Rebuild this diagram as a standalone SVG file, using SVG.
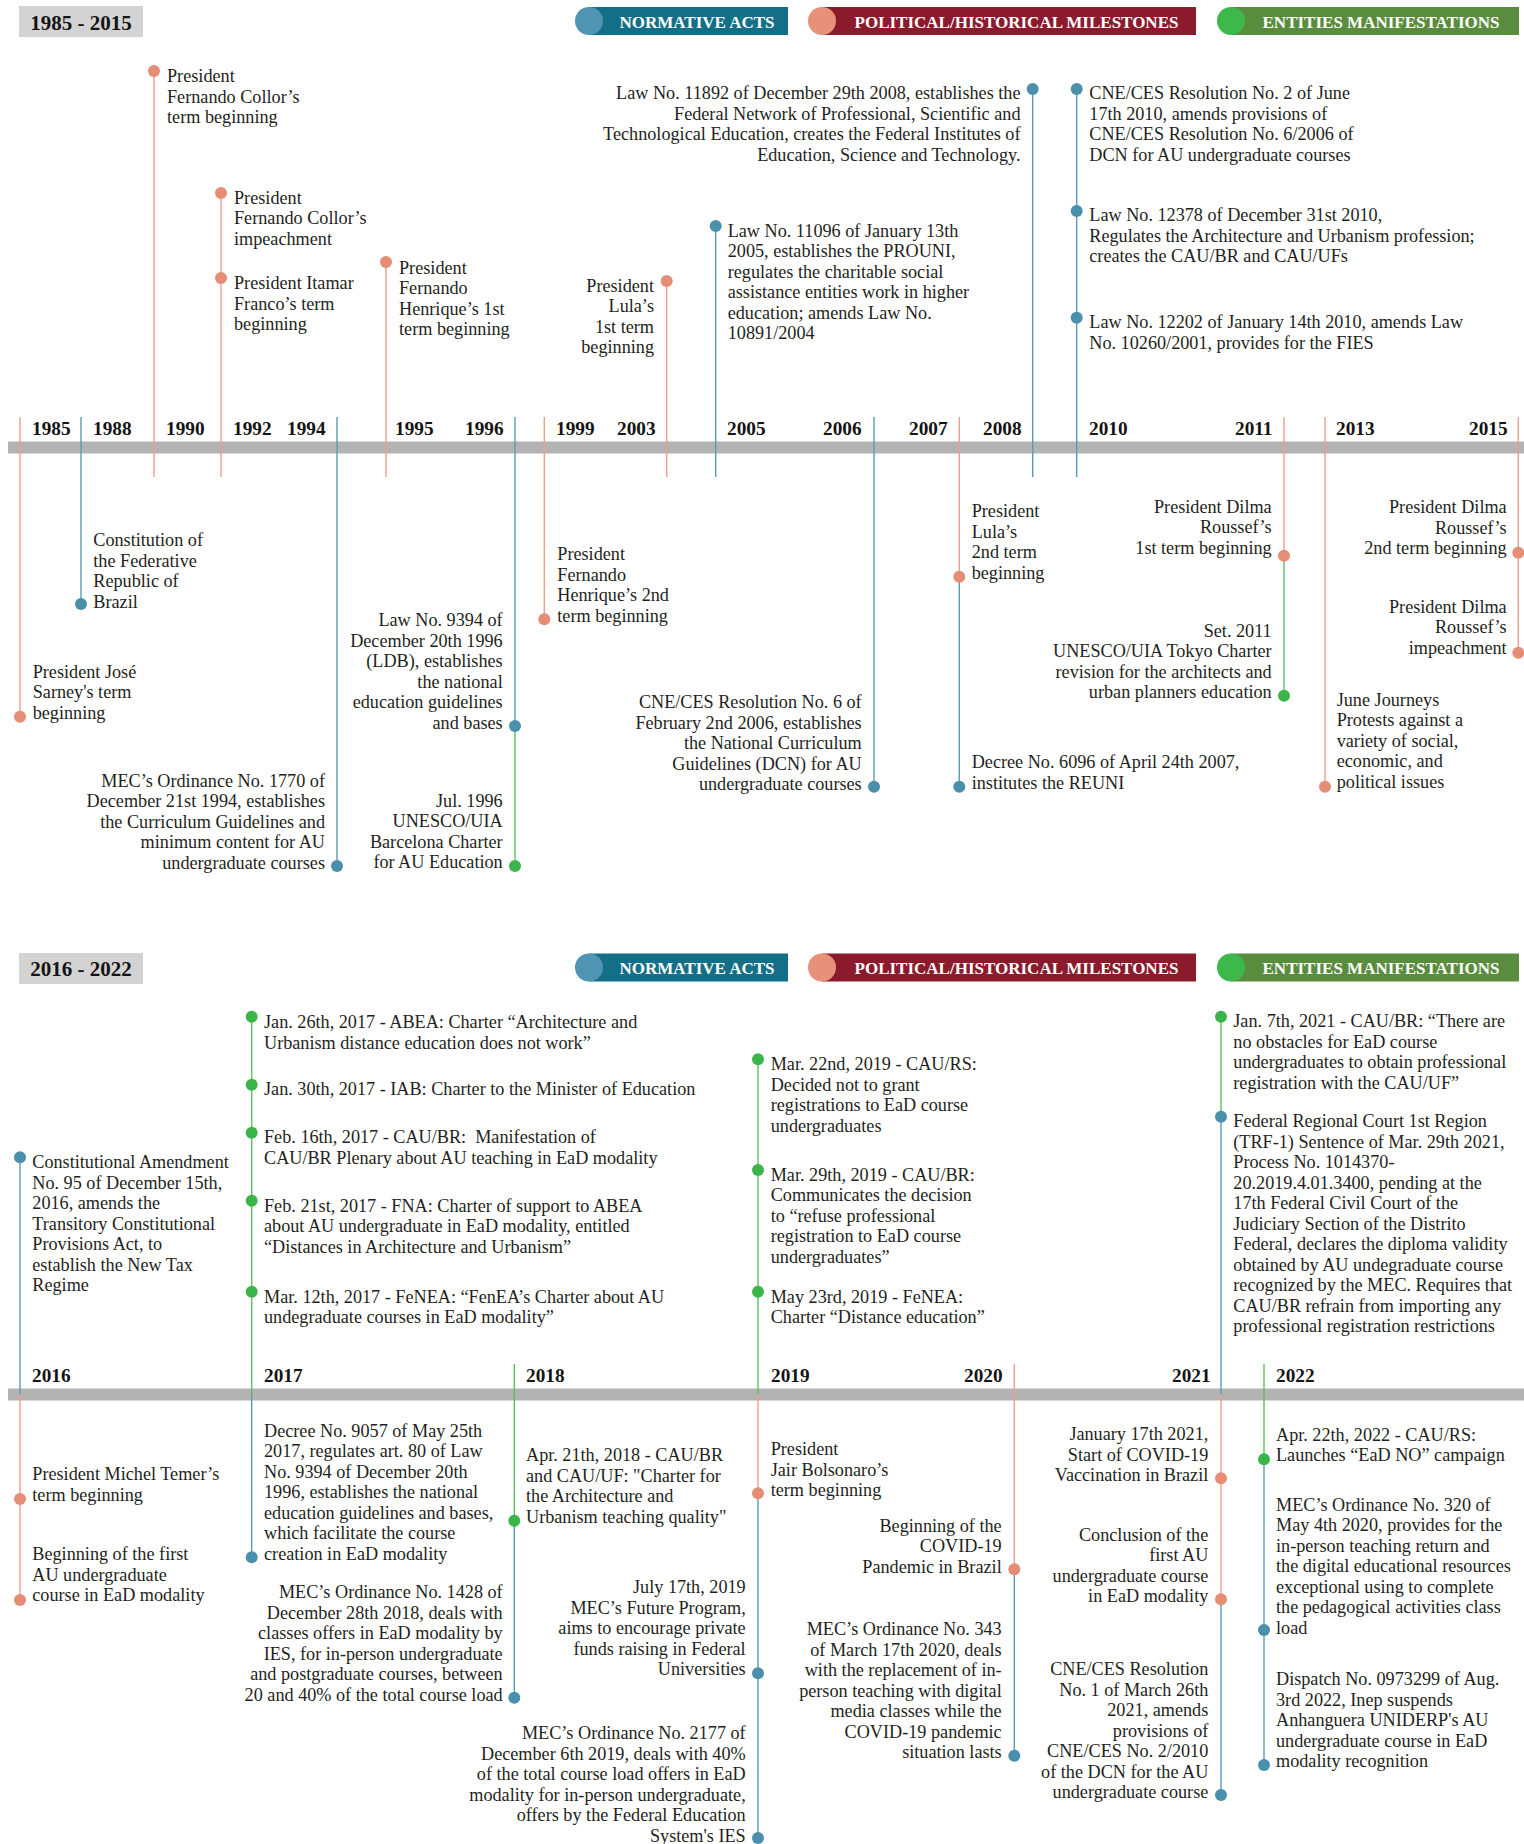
<svg xmlns="http://www.w3.org/2000/svg" width="1524" height="1844" viewBox="0 0 1524 1844">
<style>
.t{font-family:"Liberation Serif","Times New Roman",serif;font-size:18.2px;fill:#231f20}
.r{text-anchor:end}
.yr{font-family:"Liberation Serif","Times New Roman",serif;font-weight:bold;font-size:19.3px;fill:#141414}
.ttl{font-family:"Liberation Serif","Times New Roman",serif;font-weight:bold;font-size:21px;fill:#141414;text-anchor:middle}
.lg{font-family:"Liberation Serif","Times New Roman",serif;font-weight:bold;font-size:17px;fill:#ffffff;text-anchor:middle}
.ls{stroke:#ee9f8b;stroke-width:1.4;fill:none}
.lb{stroke:#5c9bb6;stroke-width:1.4;fill:none}
.lgr{stroke:#5cc060;stroke-width:1.4;fill:none}
.ds{fill:#e58d75}
.db{fill:#4a8fac}
.dg{fill:#3bb54a}
.bar{fill:#b3b3b3}
.box{fill:#d3d3d3}
</style>

<!-- ===== Section 1 header ===== -->
<g id="title-1985-2015"><rect class="box" x="19" y="6" width="124" height="31"/><text class="ttl" x="81" y="29.5">1985 - 2015</text></g>
<g id="legend-top">
<rect x="589" y="7" width="199" height="28" fill="#136f87"/><circle cx="589" cy="21" r="14" fill="#4f95b1"/><text class="lg" x="697" y="27.5">NORMATIVE ACTS</text>
<rect x="822" y="7" width="374" height="28" fill="#8a1a2c"/><circle cx="822" cy="21" r="14" fill="#e8917a"/><text class="lg" x="1016.5" y="27.5">POLITICAL/HISTORICAL MILESTONES</text>
<rect x="1231" y="7" width="288" height="28" fill="#5a8c3e"/><circle cx="1231" cy="21" r="14" fill="#3db94b"/><text class="lg" x="1381" y="27.5">ENTITIES MANIFESTATIONS</text>
</g>

<rect class="bar" x="8" y="441.5" width="1516" height="12"/>
<g id="years-top">
<text class="yr" x="32" y="435">1985</text><text class="yr" x="93" y="435">1988</text><text class="yr" x="166" y="435">1990</text><text class="yr" x="233" y="435">1992</text><text class="yr" x="287" y="435">1994</text><text class="yr" x="395" y="435">1995</text><text class="yr" x="465" y="435">1996</text><text class="yr" x="556" y="435">1999</text><text class="yr" x="617" y="435">2003</text><text class="yr" x="727" y="435">2005</text><text class="yr" x="823" y="435">2006</text><text class="yr" x="909" y="435">2007</text><text class="yr" x="983" y="435">2008</text><text class="yr" x="1089" y="435">2010</text><text class="yr" x="1235" y="435">2011</text><text class="yr" x="1336" y="435">2013</text><text class="yr" x="1469" y="435">2015</text>
</g>

<!-- ===== Section 2 header ===== -->
<g id="title-2016-2022"><rect class="box" x="19" y="953" width="124" height="31"/><text class="ttl" x="81" y="976">2016 - 2022</text></g>
<g id="legend-bottom">
<rect x="589" y="953.5" width="199" height="28" fill="#136f87"/><circle cx="589" cy="967.5" r="14" fill="#4f95b1"/><text class="lg" x="697" y="974">NORMATIVE ACTS</text>
<rect x="822" y="953.5" width="374" height="28" fill="#8a1a2c"/><circle cx="822" cy="967.5" r="14" fill="#e8917a"/><text class="lg" x="1016.5" y="974">POLITICAL/HISTORICAL MILESTONES</text>
<rect x="1231" y="953.5" width="288" height="28" fill="#5a8c3e"/><circle cx="1231" cy="967.5" r="14" fill="#3db94b"/><text class="lg" x="1381" y="974">ENTITIES MANIFESTATIONS</text>
</g>

<rect class="bar" x="8" y="1388.5" width="1516" height="12"/>
<g id="years-bottom">
<text class="yr" x="32" y="1382">2016</text><text class="yr" x="264" y="1382">2017</text><text class="yr" x="526" y="1382">2018</text><text class="yr" x="771" y="1382">2019</text><text class="yr" x="964" y="1382">2020</text><text class="yr" x="1172" y="1382">2021</text><text class="yr" x="1276" y="1382">2022</text>
</g>

<!-- ===== Connectors ===== -->
<g id="connectors">
<line class="ls" x1="154" y1="71" x2="154" y2="477"/>
<line class="ls" x1="221" y1="193" x2="221" y2="477"/>
<line class="ls" x1="386" y1="262" x2="386" y2="477"/>
<line class="ls" x1="666.7" y1="281" x2="666.7" y2="477"/>
<line class="lb" x1="715.7" y1="226" x2="715.7" y2="477"/>
<line class="lb" x1="1032.7" y1="89" x2="1032.7" y2="477"/>
<line class="lb" x1="1076.7" y1="89" x2="1076.7" y2="477"/>
<line class="ls" x1="20" y1="417" x2="20" y2="717"/>
<line class="lb" x1="81" y1="417" x2="81" y2="604"/>
<line class="lb" x1="337" y1="417" x2="337" y2="866"/>
<line class="lb" x1="515" y1="417" x2="515" y2="726"/>
<line class="lgr" x1="515" y1="726" x2="515" y2="866"/>
<line class="ls" x1="544.3" y1="417" x2="544.3" y2="619"/>
<line class="lb" x1="874" y1="417" x2="874" y2="787"/>
<line class="ls" x1="959.3" y1="417" x2="959.3" y2="577"/>
<line class="lb" x1="959.3" y1="577" x2="959.3" y2="787"/>
<line class="ls" x1="1284" y1="417" x2="1284" y2="556"/>
<line class="lgr" x1="1284" y1="556" x2="1284" y2="696"/>
<line class="ls" x1="1325" y1="417" x2="1325" y2="787"/>
<line class="ls" x1="1518.3" y1="417" x2="1518.3" y2="653"/>

<line class="lb" x1="20" y1="1157" x2="20" y2="1394"/>
<line class="ls" x1="20" y1="1394" x2="20" y2="1600"/>
<line class="lgr" x1="251.7" y1="1011" x2="251.7" y2="1394"/>
<line class="lb" x1="251.7" y1="1394" x2="251.7" y2="1557"/>
<line class="lgr" x1="514.3" y1="1364" x2="514.3" y2="1521"/>
<line class="lb" x1="514.3" y1="1521" x2="514.3" y2="1698"/>
<line class="lgr" x1="758" y1="1059" x2="758" y2="1394"/>
<line class="ls" x1="758" y1="1394" x2="758" y2="1493"/>
<line class="lb" x1="758" y1="1493" x2="758" y2="1838"/>
<line class="ls" x1="1014.3" y1="1364" x2="1014.3" y2="1569"/>
<line class="lb" x1="1014.3" y1="1569" x2="1014.3" y2="1756"/>
<line class="lgr" x1="1221" y1="1017" x2="1221" y2="1117"/>
<line class="lb" x1="1221" y1="1117" x2="1221" y2="1394"/>
<line class="ls" x1="1221" y1="1394" x2="1221" y2="1599"/>
<line class="lb" x1="1221" y1="1599" x2="1221" y2="1795"/>
<line class="lgr" x1="1264" y1="1364" x2="1264" y2="1459"/>
<line class="lb" x1="1264" y1="1459" x2="1264" y2="1765"/>
</g>

<!-- ===== Nodes: 1985-2015 ===== -->
<g id="n-collor-term"><circle class="ds" cx="154" cy="71" r="6"/><text class="t" x="167" y="82"><tspan x="167">President</tspan><tspan x="167" dy="20.5">Fernando Collor’s</tspan><tspan x="167" dy="20.5">term beginning</tspan></text></g>
<g id="n-collor-impeachment"><circle class="ds" cx="221" cy="193" r="6"/><text class="t" x="234" y="203.5"><tspan x="234">President</tspan><tspan x="234" dy="20.5">Fernando Collor’s</tspan><tspan x="234" dy="20.5">impeachment</tspan></text></g>
<g id="n-itamar"><circle class="ds" cx="221" cy="278" r="6"/><text class="t" x="234" y="289"><tspan x="234">President Itamar</tspan><tspan x="234" dy="20.5">Franco’s term</tspan><tspan x="234" dy="20.5">beginning</tspan></text></g>
<g id="n-fhc1"><circle class="ds" cx="386" cy="262" r="6"/><text class="t" x="399" y="273.5"><tspan x="399">President</tspan><tspan x="399" dy="20.5">Fernando</tspan><tspan x="399" dy="20.5">Henrique’s 1st</tspan><tspan x="399" dy="20.5">term beginning</tspan></text></g>
<g id="n-lula1"><circle class="ds" cx="666.7" cy="281" r="6"/><text class="t r" x="654" y="291.7"><tspan x="654">President</tspan><tspan x="654" dy="20.5">Lula’s</tspan><tspan x="654" dy="20.5">1st term</tspan><tspan x="654" dy="20.5">beginning</tspan></text></g>
<g id="n-law11096"><circle class="db" cx="715.7" cy="226" r="6"/><text class="t" x="727.7" y="236.7"><tspan x="727.7">Law No. 11096 of January 13th</tspan><tspan x="727.7" dy="20.5">2005, establishes the PROUNI,</tspan><tspan x="727.7" dy="20.5">regulates the charitable social</tspan><tspan x="727.7" dy="20.5">assistance entities work in higher</tspan><tspan x="727.7" dy="20.5">education; amends Law No.</tspan><tspan x="727.7" dy="20.5">10891/2004</tspan></text></g>
<g id="n-law11892"><circle class="db" cx="1032.7" cy="89" r="6"/><text class="t r" x="1020.5" y="99"><tspan x="1020.5">Law No. 11892 of December 29th 2008, establishes the</tspan><tspan x="1020.5" dy="20.5">Federal Network of Professional, Scientific and</tspan><tspan x="1020.5" dy="20.5">Technological Education, creates the Federal Institutes of</tspan><tspan x="1020.5" dy="20.5">Education, Science and Technology.</tspan></text></g>
<g id="n-cnecés2"><circle class="db" cx="1076.7" cy="89" r="6"/><text class="t" x="1089.3" y="99"><tspan x="1089.3">CNE/CES Resolution No. 2 of June</tspan><tspan x="1089.3" dy="20.5">17th 2010, amends provisions of</tspan><tspan x="1089.3" dy="20.5">CNE/CES Resolution No. 6/2006 of</tspan><tspan x="1089.3" dy="20.5">DCN for AU undergraduate courses</tspan></text></g>
<g id="n-law12378"><circle class="db" cx="1076.7" cy="211" r="6"/><text class="t" x="1089.3" y="221"><tspan x="1089.3">Law No. 12378 of December 31st 2010,</tspan><tspan x="1089.3" dy="20.5">Regulates the Architecture and Urbanism profession;</tspan><tspan x="1089.3" dy="20.5">creates the CAU/BR and CAU/UFs</tspan></text></g>
<g id="n-law12202"><circle class="db" cx="1076.7" cy="317.7" r="6"/><text class="t" x="1089.3" y="328.3"><tspan x="1089.3">Law No. 12202 of January 14th 2010, amends Law</tspan><tspan x="1089.3" dy="20.5">No. 10260/2001, provides for the FIES</tspan></text></g>

<g id="n-sarney"><circle class="ds" cx="20" cy="716.7" r="6"/><text class="t" x="32.7" y="677.7"><tspan x="32.7">President José</tspan><tspan x="32.7" dy="20.5">Sarney's term</tspan><tspan x="32.7" dy="20.5">beginning</tspan></text></g>
<g id="n-constitution"><circle class="db" cx="81" cy="604" r="6"/><text class="t" x="93.3" y="546"><tspan x="93.3">Constitution of</tspan><tspan x="93.3" dy="20.5">the Federative</tspan><tspan x="93.3" dy="20.5">Republic of</tspan><tspan x="93.3" dy="20.5">Brazil</tspan></text></g>
<g id="n-mec1770"><circle class="db" cx="337" cy="866" r="6"/><text class="t r" x="325" y="786.7"><tspan x="325">MEC’s Ordinance No. 1770 of</tspan><tspan x="325" dy="20.5">December 21st 1994, establishes</tspan><tspan x="325" dy="20.5">the Curriculum Guidelines and</tspan><tspan x="325" dy="20.5">minimum content for AU</tspan><tspan x="325" dy="20.5">undergraduate courses</tspan></text></g>
<g id="n-law9394"><circle class="db" cx="515" cy="726" r="6"/><text class="t r" x="502.7" y="626"><tspan x="502.7">Law No. 9394 of</tspan><tspan x="502.7" dy="20.5">December 20th 1996</tspan><tspan x="502.7" dy="20.5">(LDB), establishes</tspan><tspan x="502.7" dy="20.5">the national</tspan><tspan x="502.7" dy="20.5">education guidelines</tspan><tspan x="502.7" dy="20.5">and bases</tspan></text></g>
<g id="n-barcelona"><circle class="dg" cx="515" cy="866" r="6"/><text class="t r" x="502.7" y="806.7"><tspan x="502.7">Jul. 1996</tspan><tspan x="502.7" dy="20.5">UNESCO/UIA</tspan><tspan x="502.7" dy="20.5">Barcelona Charter</tspan><tspan x="502.7" dy="20.5">for AU Education</tspan></text></g>
<g id="n-fhc2"><circle class="ds" cx="544.3" cy="619.3" r="6"/><text class="t" x="557.3" y="560"><tspan x="557.3">President</tspan><tspan x="557.3" dy="20.5">Fernando</tspan><tspan x="557.3" dy="20.5">Henrique’s 2nd</tspan><tspan x="557.3" dy="20.5">term beginning</tspan></text></g>
<g id="n-cneces6"><circle class="db" cx="874" cy="786.7" r="6"/><text class="t r" x="861.7" y="708.3"><tspan x="861.7">CNE/CES Resolution No. 6 of</tspan><tspan x="861.7" dy="20.5">February 2nd 2006, establishes</tspan><tspan x="861.7" dy="20.5">the National Curriculum</tspan><tspan x="861.7" dy="20.5">Guidelines (DCN) for AU</tspan><tspan x="861.7" dy="20.5">undergraduate courses</tspan></text></g>
<g id="n-lula2"><circle class="ds" cx="959.3" cy="576.7" r="6"/><text class="t" x="971.7" y="517.3"><tspan x="971.7">President</tspan><tspan x="971.7" dy="20.5">Lula’s</tspan><tspan x="971.7" dy="20.5">2nd term</tspan><tspan x="971.7" dy="20.5">beginning</tspan></text></g>
<g id="n-decree6096"><circle class="db" cx="959.3" cy="786.7" r="6"/><text class="t" x="971.7" y="768.3"><tspan x="971.7">Decree No. 6096 of April 24th 2007,</tspan><tspan x="971.7" dy="20.5">institutes the REUNI</tspan></text></g>
<g id="n-dilma1"><circle class="ds" cx="1284" cy="555.7" r="6"/><text class="t r" x="1271.7" y="512.7"><tspan x="1271.7">President Dilma</tspan><tspan x="1271.7" dy="20.5">Roussef’s</tspan><tspan x="1271.7" dy="20.5">1st term beginning</tspan></text></g>
<g id="n-tokyo"><circle class="dg" cx="1284" cy="695.7" r="6"/><text class="t r" x="1271.7" y="636.7"><tspan x="1271.7">Set. 2011</tspan><tspan x="1271.7" dy="20.5">UNESCO/UIA Tokyo Charter</tspan><tspan x="1271.7" dy="20.5">revision for the architects and</tspan><tspan x="1271.7" dy="20.5">urban planners education</tspan></text></g>
<g id="n-june"><circle class="ds" cx="1325" cy="786.7" r="6"/><text class="t" x="1336.7" y="705.7"><tspan x="1336.7">June Journeys</tspan><tspan x="1336.7" dy="20.5">Protests against a</tspan><tspan x="1336.7" dy="20.5">variety of social,</tspan><tspan x="1336.7" dy="20.5">economic, and</tspan><tspan x="1336.7" dy="20.5">political issues</tspan></text></g>
<g id="n-dilma2"><circle class="ds" cx="1518.3" cy="552.7" r="6"/><text class="t r" x="1506.7" y="513.3"><tspan x="1506.7">President Dilma</tspan><tspan x="1506.7" dy="20.5">Roussef’s</tspan><tspan x="1506.7" dy="20.5">2nd term beginning</tspan></text></g>
<g id="n-dilma-impeachment"><circle class="ds" cx="1518.3" cy="652.7" r="6"/><text class="t r" x="1506.7" y="612.7"><tspan x="1506.7">President Dilma</tspan><tspan x="1506.7" dy="20.5">Roussef’s</tspan><tspan x="1506.7" dy="20.5">impeachment</tspan></text></g>

<!-- ===== Nodes: 2016-2022 ===== -->
<g id="m-ec95"><circle class="db" cx="20" cy="1157.3" r="6"/><text class="t" x="32.3" y="1168.3"><tspan x="32.3">Constitutional Amendment</tspan><tspan x="32.3" dy="20.5">No. 95 of December 15th,</tspan><tspan x="32.3" dy="20.5">2016, amends the</tspan><tspan x="32.3" dy="20.5">Transitory Constitutional</tspan><tspan x="32.3" dy="20.5">Provisions Act, to</tspan><tspan x="32.3" dy="20.5">establish the New Tax</tspan><tspan x="32.3" dy="20.5">Regime</tspan></text></g>
<g id="m-abea"><circle class="dg" cx="251.7" cy="1016.7" r="6"/><text class="t" x="264" y="1028.3"><tspan x="264">Jan. 26th, 2017 - ABEA: Charter “Architecture and</tspan><tspan x="264" dy="20.5">Urbanism distance education does not work”</tspan></text></g>
<g id="m-iab"><circle class="dg" cx="251.7" cy="1084.7" r="6"/><text class="t" x="264" y="1095.3">Jan. 30th, 2017 - IAB: Charter to the Minister of Education</text></g>
<g id="m-caubr2017"><circle class="dg" cx="251.7" cy="1132.7" r="6"/><text class="t" x="264" y="1143.3" xml:space="preserve"><tspan x="264">Feb. 16th, 2017 - CAU/BR:  Manifestation of</tspan><tspan x="264" dy="20.5">CAU/BR Plenary about AU teaching in EaD modality</tspan></text></g>
<g id="m-fna"><circle class="dg" cx="251.7" cy="1200.7" r="6"/><text class="t" x="264" y="1211.7"><tspan x="264">Feb. 21st, 2017 - FNA: Charter of support to ABEA</tspan><tspan x="264" dy="20.5">about AU undergraduate in EaD modality, entitled</tspan><tspan x="264" dy="20.5">“Distances in Architecture and Urbanism”</tspan></text></g>
<g id="m-fenea2017"><circle class="dg" cx="251.7" cy="1291.7" r="6"/><text class="t" x="264" y="1302.7"><tspan x="264">Mar. 12th, 2017 - FeNEA: “FenEA’s Charter about AU</tspan><tspan x="264" dy="20.5">undegraduate courses in EaD modality”</tspan></text></g>
<g id="m-caurs2019"><circle class="dg" cx="758" cy="1059.3" r="6"/><text class="t" x="770.7" y="1070"><tspan x="770.7">Mar. 22nd, 2019 - CAU/RS:</tspan><tspan x="770.7" dy="20.5">Decided not to grant</tspan><tspan x="770.7" dy="20.5">registrations to EaD course</tspan><tspan x="770.7" dy="20.5">undergraduates</tspan></text></g>
<g id="m-caubr2019"><circle class="dg" cx="758" cy="1170" r="6"/><text class="t" x="770.7" y="1180.7"><tspan x="770.7">Mar. 29th, 2019 - CAU/BR:</tspan><tspan x="770.7" dy="20.5">Communicates the decision</tspan><tspan x="770.7" dy="20.5">to “refuse professional</tspan><tspan x="770.7" dy="20.5">registration to EaD course</tspan><tspan x="770.7" dy="20.5">undergraduates”</tspan></text></g>
<g id="m-fenea2019"><circle class="dg" cx="758" cy="1291.7" r="6"/><text class="t" x="770.7" y="1302.7"><tspan x="770.7">May 23rd, 2019 - FeNEA:</tspan><tspan x="770.7" dy="20.5">Charter “Distance education”</tspan></text></g>
<g id="m-caubr2021"><circle class="dg" cx="1221" cy="1016.7" r="6"/><text class="t" x="1233.3" y="1027.3"><tspan x="1233.3">Jan. 7th, 2021 - CAU/BR: “There are</tspan><tspan x="1233.3" dy="20.5">no obstacles for EaD course</tspan><tspan x="1233.3" dy="20.5">undergraduates to obtain professional</tspan><tspan x="1233.3" dy="20.5">registration with the CAU/UF”</tspan></text></g>
<g id="m-trf1"><circle class="db" cx="1221" cy="1116.7" r="6"/><text class="t" x="1233.3" y="1127.3"><tspan x="1233.3">Federal Regional Court 1st Region</tspan><tspan x="1233.3" dy="20.5">(TRF-1) Sentence of Mar. 29th 2021,</tspan><tspan x="1233.3" dy="20.5">Process No. 1014370-</tspan><tspan x="1233.3" dy="20.5">20.2019.4.01.3400, pending at the</tspan><tspan x="1233.3" dy="20.5">17th Federal Civil Court of the</tspan><tspan x="1233.3" dy="20.5">Judiciary Section of the Distrito</tspan><tspan x="1233.3" dy="20.5">Federal, declares the diploma validity</tspan><tspan x="1233.3" dy="20.5">obtained by AU undegraduate course</tspan><tspan x="1233.3" dy="20.5">recognized by the MEC. Requires that</tspan><tspan x="1233.3" dy="20.5">CAU/BR refrain from importing any</tspan><tspan x="1233.3" dy="20.5">professional registration restrictions</tspan></text></g>

<g id="m-temer"><circle class="ds" cx="20" cy="1499" r="6"/><text class="t" x="32.3" y="1480"><tspan x="32.3">President Michel Temer’s</tspan><tspan x="32.3" dy="20.5">term beginning</tspan></text></g>
<g id="m-first-ead"><circle class="ds" cx="20" cy="1600" r="6"/><text class="t" x="32.3" y="1560"><tspan x="32.3">Beginning of the first</tspan><tspan x="32.3" dy="20.5">AU undergraduate</tspan><tspan x="32.3" dy="20.5">course in EaD modality</tspan></text></g>
<g id="m-decree9057"><circle class="db" cx="251.7" cy="1557.3" r="6"/><text class="t" x="264" y="1436.7"><tspan x="264">Decree No. 9057 of May 25th</tspan><tspan x="264" dy="20.5">2017, regulates art. 80 of Law</tspan><tspan x="264" dy="20.5">No. 9394 of December 20th</tspan><tspan x="264" dy="20.5">1996, establishes the national</tspan><tspan x="264" dy="20.5">education guidelines and bases,</tspan><tspan x="264" dy="20.5">which facilitate the course</tspan><tspan x="264" dy="20.5">creation in EaD modality</tspan></text></g>
<g id="m-charter2018"><circle class="dg" cx="514.3" cy="1520.7" r="6"/><text class="t" x="526" y="1461"><tspan x="526">Apr. 21th, 2018 - CAU/BR</tspan><tspan x="526" dy="20.5">and CAU/UF: "Charter for</tspan><tspan x="526" dy="20.5">the Architecture and</tspan><tspan x="526" dy="20.5">Urbanism teaching quality"</tspan></text></g>
<g id="m-mec1428"><circle class="db" cx="514.3" cy="1697.7" r="6"/><text class="t r" x="502.7" y="1598.3"><tspan x="502.7">MEC’s Ordinance No. 1428 of</tspan><tspan x="502.7" dy="20.5">December 28th 2018, deals with</tspan><tspan x="502.7" dy="20.5">classes offers in EaD modality by</tspan><tspan x="502.7" dy="20.5">IES, for in-person undergraduate</tspan><tspan x="502.7" dy="20.5">and postgraduate courses, between</tspan><tspan x="502.7" dy="20.5">20 and 40% of the total course load</tspan></text></g>
<g id="m-bolsonaro"><circle class="ds" cx="758" cy="1493.3" r="6"/><text class="t" x="770.7" y="1455"><tspan x="770.7">President</tspan><tspan x="770.7" dy="20.5">Jair Bolsonaro’s</tspan><tspan x="770.7" dy="20.5">term beginning</tspan></text></g>
<g id="m-future"><circle class="db" cx="758" cy="1673.3" r="6"/><text class="t r" x="745.7" y="1593.3"><tspan x="745.7">July 17th, 2019</tspan><tspan x="745.7" dy="20.5">MEC’s Future Program,</tspan><tspan x="745.7" dy="20.5">aims to encourage private</tspan><tspan x="745.7" dy="20.5">funds raising in Federal</tspan><tspan x="745.7" dy="20.5">Universities</tspan></text></g>
<g id="m-mec2177"><circle class="db" cx="758" cy="1838" r="6"/><text class="t r" x="745.7" y="1739"><tspan x="745.7">MEC’s Ordinance No. 2177 of</tspan><tspan x="745.7" dy="20.5">December 6th 2019, deals with 40%</tspan><tspan x="745.7" dy="20.5">of the total course load offers in EaD</tspan><tspan x="745.7" dy="20.5">modality for in-person undergraduate,</tspan><tspan x="745.7" dy="20.5">offers by the Federal Education</tspan><tspan x="745.7" dy="20.5">System's IES</tspan></text></g>
<g id="m-covid"><circle class="ds" cx="1014.3" cy="1569.3" r="6"/><text class="t r" x="1001.7" y="1531.7"><tspan x="1001.7">Beginning of the</tspan><tspan x="1001.7" dy="20.5">COVID-19</tspan><tspan x="1001.7" dy="20.5">Pandemic in Brazil</tspan></text></g>
<g id="m-mec343"><circle class="db" cx="1014.3" cy="1755.7" r="6"/><text class="t r" x="1001.7" y="1635"><tspan x="1001.7">MEC’s Ordinance No. 343</tspan><tspan x="1001.7" dy="20.5">of March 17th 2020, deals</tspan><tspan x="1001.7" dy="20.5">with the replacement of in-</tspan><tspan x="1001.7" dy="20.5">person teaching with digital</tspan><tspan x="1001.7" dy="20.5">media classes while the</tspan><tspan x="1001.7" dy="20.5">COVID-19 pandemic</tspan><tspan x="1001.7" dy="20.5">situation lasts</tspan></text></g>
<g id="m-vaccination"><circle class="ds" cx="1221" cy="1478.3" r="6"/><text class="t r" x="1208.3" y="1440"><tspan x="1208.3">January 17th 2021,</tspan><tspan x="1208.3" dy="20.5">Start of COVID-19</tspan><tspan x="1208.3" dy="20.5">Vaccination in Brazil</tspan></text></g>
<g id="m-conclusion"><circle class="ds" cx="1221" cy="1599.3" r="6"/><text class="t r" x="1208.3" y="1540.7"><tspan x="1208.3">Conclusion of the</tspan><tspan x="1208.3" dy="20.5">first AU</tspan><tspan x="1208.3" dy="20.5">undergraduate course</tspan><tspan x="1208.3" dy="20.5">in EaD modality</tspan></text></g>
<g id="m-cneces1"><circle class="db" cx="1221" cy="1795" r="6"/><text class="t r" x="1208.3" y="1675"><tspan x="1208.3">CNE/CES Resolution</tspan><tspan x="1208.3" dy="20.5">No. 1 of March 26th</tspan><tspan x="1208.3" dy="20.5">2021, amends</tspan><tspan x="1208.3" dy="20.5">provisions of</tspan><tspan x="1208.3" dy="20.5">CNE/CES No. 2/2010</tspan><tspan x="1208.3" dy="20.5">of the DCN for the AU</tspan><tspan x="1208.3" dy="20.5">undergraduate course</tspan></text></g>
<g id="m-eadno"><circle class="dg" cx="1264" cy="1459.3" r="6"/><text class="t" x="1276" y="1440.7"><tspan x="1276">Apr. 22th, 2022 - CAU/RS:</tspan><tspan x="1276" dy="20.5">Launches “EaD NO” campaign</tspan></text></g>
<g id="m-mec320"><circle class="db" cx="1264" cy="1630" r="6"/><text class="t" x="1276" y="1510.7"><tspan x="1276">MEC’s Ordinance No. 320 of</tspan><tspan x="1276" dy="20.5">May 4th 2020, provides for the</tspan><tspan x="1276" dy="20.5">in-person teaching return and</tspan><tspan x="1276" dy="20.5">the digital educational resources</tspan><tspan x="1276" dy="20.5">exceptional using to complete</tspan><tspan x="1276" dy="20.5">the pedagogical activities class</tspan><tspan x="1276" dy="20.5">load</tspan></text></g>
<g id="m-dispatch"><circle class="db" cx="1264" cy="1765" r="6"/><text class="t" x="1276" y="1685"><tspan x="1276">Dispatch No. 0973299 of Aug.</tspan><tspan x="1276" dy="20.5">3rd 2022, Inep suspends</tspan><tspan x="1276" dy="20.5">Anhanguera UNIDERP's AU</tspan><tspan x="1276" dy="20.5">undergraduate course in EaD</tspan><tspan x="1276" dy="20.5">modality recognition</tspan></text></g>
</svg>
